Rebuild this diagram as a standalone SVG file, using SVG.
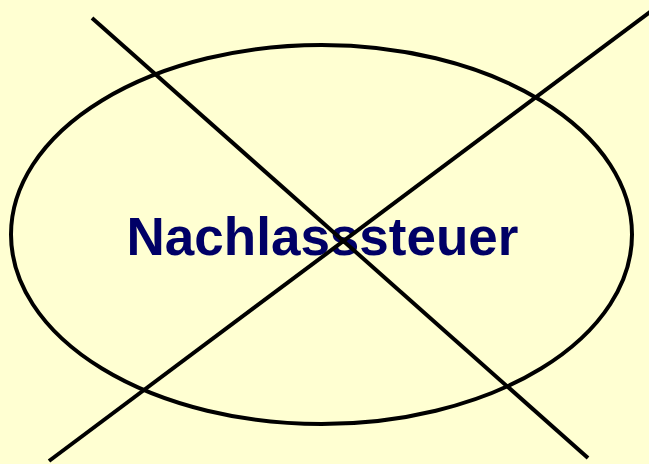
<svg xmlns="http://www.w3.org/2000/svg" width="649" height="464" viewBox="0 0 649 464">
<style>
.shape{fill:none;stroke:#000;stroke-width:4}
.lbl{font-family:"Liberation Sans",Arial,sans-serif;font-weight:bold;font-size:53px;fill:#000066;text-anchor:middle}
</style>
<rect width="649" height="464" fill="#FFFFD2"/>
<g id="node-nachlasssteuer">
<ellipse class="shape" cx="321.5" cy="234.5" rx="310.5" ry="189.5"/>
<text class="lbl" x="322.5" y="255">Nachlasssteuer</text>
</g>
<g id="connectors">
<line class="shape" x1="92" y1="18" x2="588" y2="458"/>
<line class="shape" x1="654" y1="9" x2="49" y2="461"/>
</g>
</svg>
